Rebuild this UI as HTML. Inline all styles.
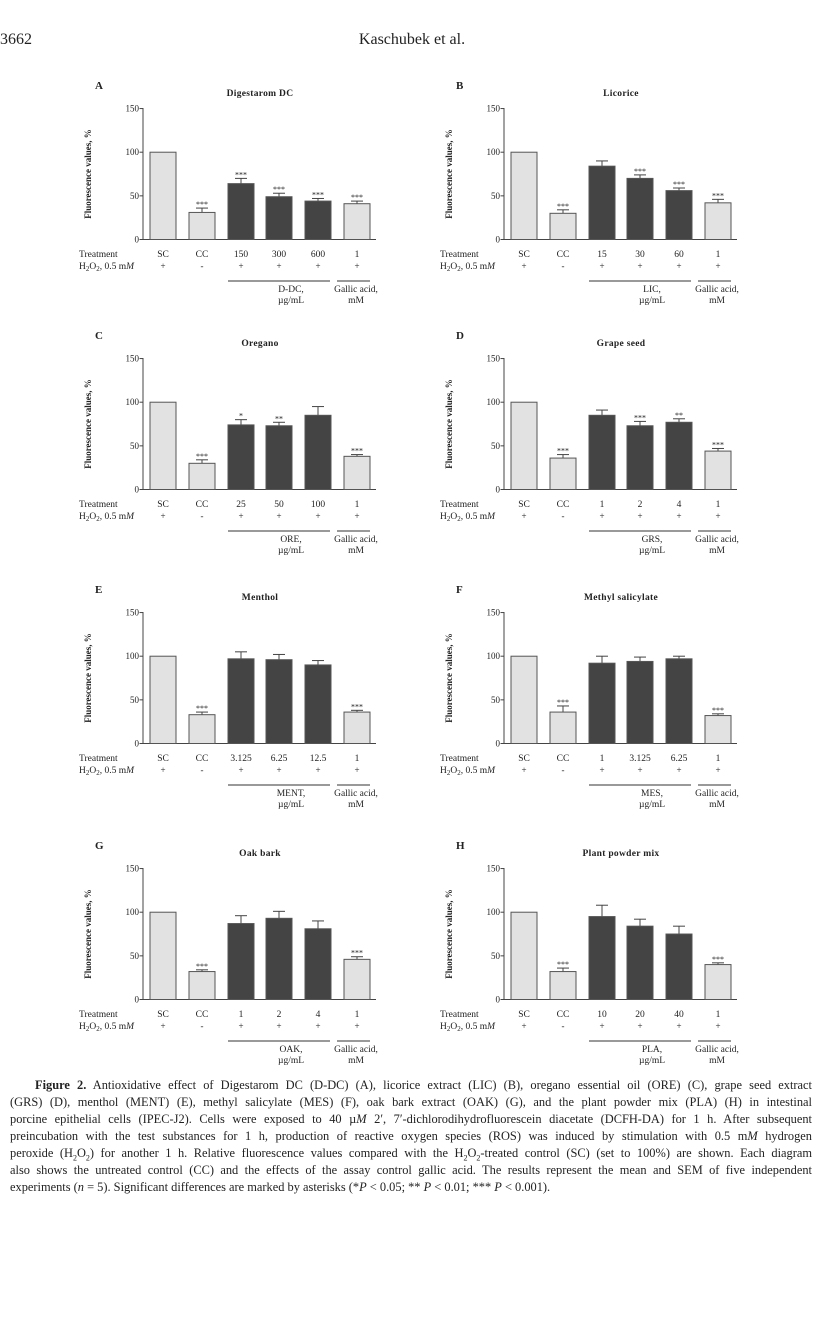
<!DOCTYPE html>
<html><head><meta charset="utf-8"><style>
body{margin:0;background:#fff;width:824px;height:1322px;position:relative;overflow:hidden;font-family:"Liberation Serif",serif;color:#222}
svg{position:absolute;left:0;top:0}
.cap{position:absolute;left:10px;width:802px;font-size:12.4px;line-height:16px;text-align:justify;text-align-last:justify;white-space:nowrap}
</style></head><body>
<div style="position:absolute;left:0;top:31px;font-size:16px">3662</div>
<div style="position:absolute;left:0;width:824px;top:31px;font-size:16px;text-align:center">Kaschubek et al.</div>
<svg id="s" width="824" height="1322" xmlns="http://www.w3.org/2000/svg" font-family="Liberation Serif, serif"></svg>
<div class="cap" style="top:1077px;left:35px;width:777px"><b>Figure 2.</b> Antioxidative effect of Digestarom DC (D-DC) (A), licorice extract (LIC) (B), oregano essential oil (ORE) (C), grape seed extract</div>
<div class="cap" style="top:1094px">(GRS) (D), menthol (MENT) (E), methyl salicylate (MES) (F), oak bark extract (OAK) (G), and the plant powder mix (PLA) (H) in intestinal</div>
<div class="cap" style="top:1111px">porcine epithelial cells (IPEC-J2). Cells were exposed to 40 µ<i>M</i> 2′, 7′-dichlorodihydrofluorescein diacetate (DCFH-DA) for 1 h. After subsequent</div>
<div class="cap" style="top:1128px">preincubation with the test substances for 1 h, production of reactive oxygen species (ROS) was induced by stimulation with 0.5 m<i>M</i> hydrogen</div>
<div class="cap" style="top:1145px">peroxide (H<sub style="font-size:8px">2</sub>O<sub style="font-size:8px">2</sub>) for another 1 h. Relative fluorescence values compared with the H<sub style="font-size:8px">2</sub>O<sub style="font-size:8px">2</sub>-treated control (SC) (set to 100%) are shown. Each diagram</div>
<div class="cap" style="top:1162px">also shows the untreated control (CC) and the effects of the assay control gallic acid. The results represent the mean and SEM of five independent</div>
<div class="cap" style="top:1179px;text-align-last:left">experiments (<i>n</i> = 5). Significant differences are marked by asterisks (*<i>P</i> &lt; 0.05; ** <i>P</i> &lt; 0.01; *** <i>P</i> &lt; 0.001).</div>
<script>
var P=[
["A","Digestarom DC",0,0,["150","300","600"],"D-DC,",[[100,0,""],[31,5,"***"],[64,6,"***"],[49,4,"***"],[44,3,"***"],[41,3,"***"]]],
["B","Licorice",361,0,["15","30","60"],"LIC,",[[100,0,""],[30,4,"***"],[84,6,""],[70,4,"***"],[56,3,"***"],[42,4,"***"]]],
["C","Oregano",0,250,["25","50","100"],"ORE,",[[100,0,""],[30,4,"***"],[74,6,"*"],[73,4,"**"],[85,10,""],[38,2,"***"]]],
["D","Grape seed",361,250,["1","2","4"],"GRS,",[[100,0,""],[36,4,"***"],[85,6,""],[73,5,"***"],[77,4,"**"],[44,3,"***"]]],
["E","Menthol",0,504,["3.125","6.25","12.5"],"MENT,",[[100,0,""],[33,3,"***"],[97,8,""],[96,6,""],[90,5,""],[36,2,"***"]]],
["F","Methyl salicylate",361,504,["1","3.125","6.25"],"MES,",[[100,0,""],[36,7,"***"],[92,8,""],[94,5,""],[97,3,""],[32,2,"***"]]],
["G","Oak bark",0,760,["1","2","4"],"OAK,",[[100,0,""],[32,2,"***"],[87,9,""],[93,8,""],[81,9,""],[46,3,"***"]]],
["H","Plant powder mix",361,760,["10","20","40"],"PLA,",[[100,0,""],[32,4,"***"],[95,13,""],[84,8,""],[75,9,""],[40,2,"***"]]]];
var h="";
function T(x,y,t,a,s,e){return '<text x="'+x+'" y="'+y+'" font-size="'+(s||9.5)+'" text-anchor="'+(a||"start")+'" '+(e||"")+'>'+t+'</text>';}
P.forEach(function(p){
 var g='<g transform="translate('+p[2]+','+p[3]+')" fill="#222">';
 g+=T(95,89,p[0],"start",11,'font-weight="bold"');
 g+=T(260,96,p[1],"middle",9.5,'font-weight="bold" letter-spacing="0.3"');
 g+='<line x1="143" y1="108" x2="143" y2="239.5" stroke="#444" stroke-width="1"/>';
 g+='<line x1="143" y1="239.5" x2="376" y2="239.5" stroke="#444" stroke-width="1"/>';
 [0,50,100,150].forEach(function(v){var y=239.5-v*0.873;g+='<line x1="139.5" x2="143" y1="'+y+'" y2="'+y+'" stroke="#444"/>'+T(139,y+3,v,"end",9);});
 g+=T(91,174,"Fluorescence values, %","middle",9,'font-weight="bold" transform="rotate(-90 91 174)"');
 var xs=[150,189,228,266,305,344];
 var labs=["SC","CC"].concat(p[4]).concat(["1"]);
 var pl=["+","-","+","+","+","+"];
 p[6].forEach(function(d,i){
  var x=xs[i],top=239.5-d[0]*0.873,c=x+13,dark=(i>=2&&i<=4),top2;
  if(d[1]){var et=top-d[1]*0.873;g+='<line x1="'+c+'" x2="'+c+'" y1="'+top+'" y2="'+et+'" stroke="#444"/><line x1="'+(c-6)+'" x2="'+(c+6)+'" y1="'+et+'" y2="'+et+'" stroke="#444"/>';top2=et;}else top2=top;
  g+='<rect x="'+x+'" y="'+top+'" width="26" height="'+(239.5-top)+'" fill="'+(dark?"#444":"#e2e2e2")+'" stroke="#555" stroke-width="1"/>';
  if(d[2])g+=T(c,top2-1,d[2],"middle",8);
  g+=T(c,257,labs[i],"middle",9.5)+T(c,269,pl[i],"middle",9);
 });
 g+=T(79,257,"Treatment","start",9.5);
 g+='<text x="79" y="269" font-size="9.5">H<tspan font-size="7" dy="2">2</tspan><tspan dy="-2">O</tspan><tspan font-size="7" dy="2">2</tspan><tspan dy="-2">, 0.5 m</tspan><tspan font-style="italic">M</tspan></text>';
 g+='<line x1="228" x2="330" y1="281" y2="281" stroke="#333"/><line x1="337" x2="370" y1="281" y2="281" stroke="#333"/>';
 g+=T(291,292,p[5],"middle",9.5)+T(291,303,"µg/mL","middle",9.5)+T(356,292,"Gallic acid,","middle",9.5)+T(356,303,"mM","middle",9.5);
 h+=g+'</g>';
});
document.getElementById("s").innerHTML=h;
</script>
</body></html>
